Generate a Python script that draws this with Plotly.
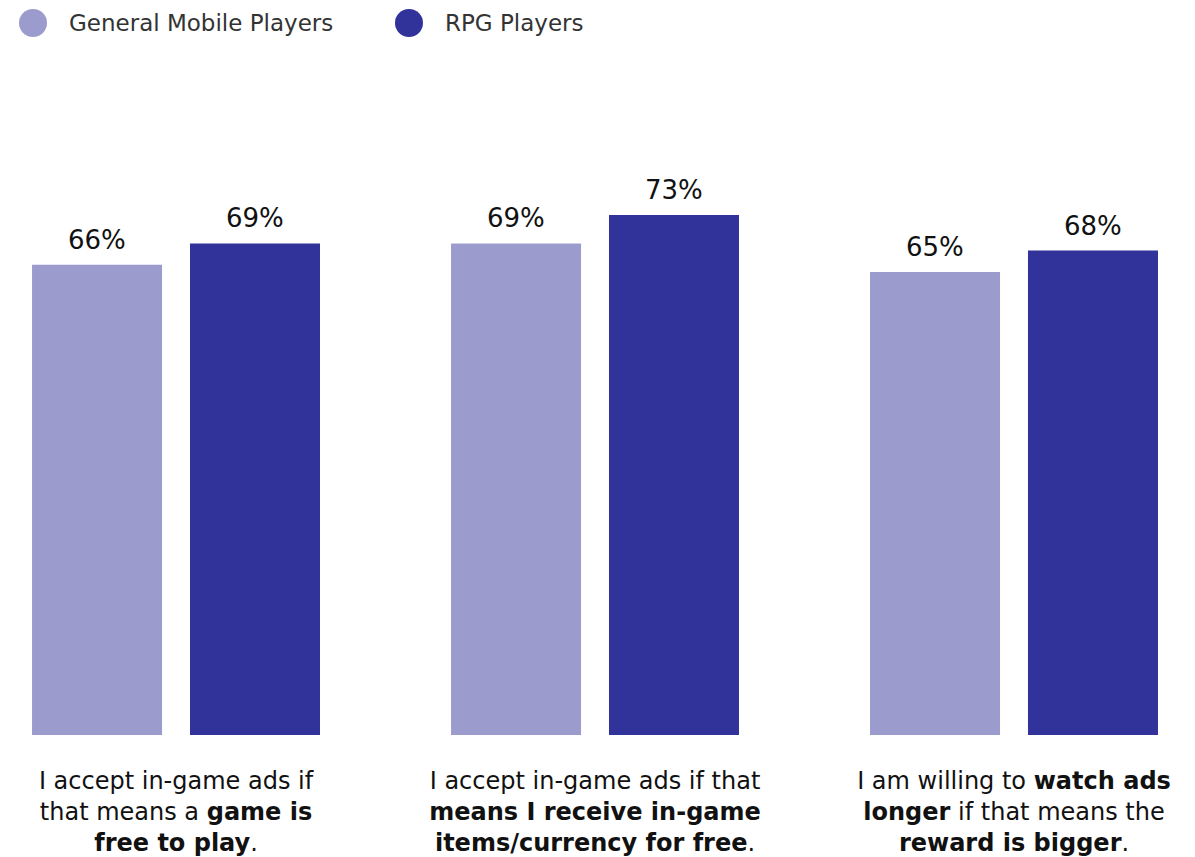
import plotly.graph_objects as go

categories = [
    "I accept in-game ads if<br>that means a <b>game is</b><br><b>free to play</b>.",
    "I accept in-game ads if that<br><b>means I receive in-game</b><br><b>items/currency for free</b>.",
    "I am willing to <b>watch ads</b><br><b>longer</b> if that means the<br><b>reward is bigger</b>.",
]
series_names = ["General Mobile Players", "RPG Players"]
general_values = [66, 69, 65]
rpg_values = [69, 73, 68]
colors = ["#9b9bcd", "#31329a"]

FONT = "DejaVu Sans"
x_idx = [0, 1, 2]
BARGAP = 0.246
slot = (1 - BARGAP) / 2

fig = go.Figure()
for k, (name, vals, col) in enumerate(zip(series_names, [general_values, rpg_values], colors)):
    fig.add_trace(go.Bar(
        x=x_idx, y=vals, name=name, marker_color=col, marker_line_width=0,
        showlegend=False, hoverinfo="skip",
    ))
    off = (k - 0.5) * slot
    for xi, v in zip(x_idx, vals):
        fig.add_annotation(x=xi + off, y=v, xref="x", yref="y", text=f"{v}%",
                           showarrow=False, yanchor="bottom", yshift=8,
                           font=dict(family=FONT, size=26, color="#111111"))

W, H = 1187, 849
TOP, BASE = 157, 727
fig.update_layout(
    width=W, height=H,
    paper_bgcolor="white", plot_bgcolor="white",
    margin=dict(l=0, r=0, t=TOP, b=H - BASE),
    barmode="group", bargap=BARGAP, bargroupgap=0.177,
    font=dict(family=FONT, color="#111111"),
    xaxis=dict(
        range=[-0.401, 2.432], tickmode="array", tickvals=x_idx, ticktext=categories,
        showgrid=False, zeroline=False, showline=False,
        ticks="outside", ticklen=24, tickcolor="rgba(0,0,0,0)",
        tickfont=dict(family=FONT, size=24, color="#111111"),
    ),
    yaxis=dict(range=[0, 80], visible=False),
)


def py(p):
    return (BASE - p) / (BASE - TOP)


legend_items = [(25, 59), (401, 435)]
for (cx, tx), name, col in zip(legend_items, series_names, colors):
    fig.add_shape(type="circle", xref="paper", yref="paper",
                  x0=(cx - 14) / W, x1=(cx + 14) / W,
                  y0=py(15 + 14), y1=py(15 - 14),
                  line_width=0, fillcolor=col)
    fig.add_annotation(xref="paper", yref="paper", x=tx / W, y=py(15),
                       xanchor="left", yanchor="middle", showarrow=False,
                       text=name, font=dict(family=FONT, size=23, color="#333333"))

fig.write_html("out.html")
